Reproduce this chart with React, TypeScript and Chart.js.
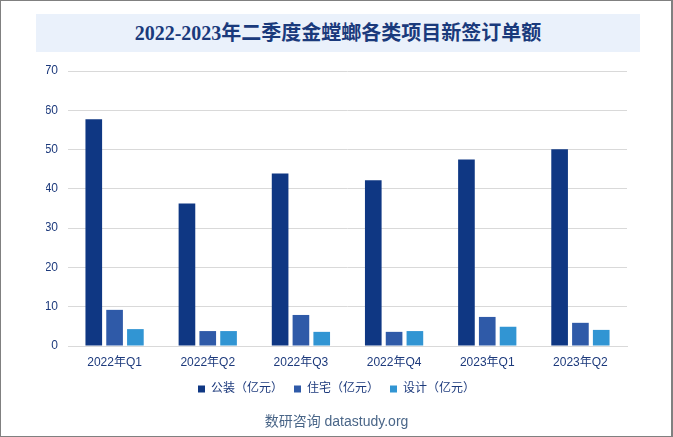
import React, { useEffect, useRef } from "react";
import { Chart, registerables } from "chart.js";

Chart.register(...registerables);

const categories = ["2022年Q1", "2022年Q2", "2022年Q3", "2022年Q4", "2023年Q1", "2023年Q2"];
const publicDecor = [57.7, 36.3, 43.9, 42.2, 47.5, 50.1];
const residential = [9.2, 3.8, 7.9, 3.6, 7.4, 5.9];
const design = [4.3, 3.8, 3.6, 3.8, 4.9, 4.1];
const seriesNames = ["公装（亿元）", "住宅（亿元）", "设计（亿元）"];
const yTicks = [0, 10, 20, 30, 40, 50, 60, 70];
const titleText = "2022-2023年二季度金螳螂各类项目新签订单额";
const sourceText = "数研咨询 datastudy.org";

const NAVY = "#1d3a7c";
const FONT = "'Liberation Sans', 'Noto Sans CJK SC', sans-serif";

export default function App() {
  const ref = useRef<HTMLCanvasElement | null>(null);

  useEffect(() => {
    if (!ref.current) return;
    const chart = new Chart(ref.current, {
      type: "bar",
      data: {
        labels: categories,
        datasets: [
          { label: seriesNames[0], data: publicDecor, backgroundColor: "#0f3783" },
          { label: seriesNames[1], data: residential, backgroundColor: "#2f5aa8" },
          { label: seriesNames[2], data: design, backgroundColor: "#3195d3" },
        ],
      },
      options: {
        animation: false,
        responsive: false,
        maintainAspectRatio: false,
        datasets: { bar: { barPercentage: 0.8, categoryPercentage: 0.67 } },
        layout: { padding: { top: 71, left: 46, right: 46, bottom: 32 } },
        plugins: {
          title: { display: false },
          tooltip: { enabled: false },
          legend: {
            position: "bottom",
            labels: {
              boxWidth: 7,
              boxHeight: 7,
              padding: 11,
              color: NAVY,
              font: { size: 12, family: FONT },
            },
          },
        },
        scales: {
          x: {
            grid: { display: false, drawTicks: false },
            border: { display: true, color: "#d9d9d9" },
            ticks: { color: NAVY, font: { size: 12, family: FONT }, padding: 9 },
            afterFit: (s: any) => { s.height = 26; },
          },
          y: {
            min: 0,
            max: 70,
            afterBuildTicks: (s: any) => { s.ticks = yTicks.map((v) => ({ value: v })); },
            grid: { color: "#d9d9d9", drawTicks: false },
            border: { display: false },
            ticks: { color: NAVY, font: { size: 12, family: FONT }, padding: 10 },
            afterFit: (s: any) => { s.width = 22; },
          },
        },
      },
    });
    return () => chart.destroy();
  }, []);

  return (
    <div
      style={{
        position: "fixed",
        left: 0,
        top: 0,
        width: 673,
        height: 437,
        boxSizing: "border-box",
        border: "1px solid #808080",
        borderRightWidth: 2,
        background: "#fff",
        overflow: "hidden",
      }}
    >
      <canvas
        ref={ref}
        width={673}
        height={437}
        style={{ position: "absolute", left: -1, top: -1, width: 673, height: 437 }}
      />
      <div
        style={{
          position: "absolute",
          left: 35,
          top: 13,
          width: 604,
          height: 38,
          background: "#eaf1fb",
          color: "#1a3a7c",
          fontFamily: "'Liberation Serif', 'Noto Sans CJK SC', serif",
          fontWeight: "bold",
          fontSize: 20,
          lineHeight: "38px",
          textAlign: "center",
        }}
      >
        {titleText}
      </div>
      <div
        style={{
          position: "absolute",
          left: 0,
          top: 410,
          width: 671,
          textAlign: "center",
          color: "#4a6688",
          fontFamily: FONT,
          fontSize: 14,
          lineHeight: "20px",
        }}
      >
        {sourceText}
      </div>
    </div>
  );
}
